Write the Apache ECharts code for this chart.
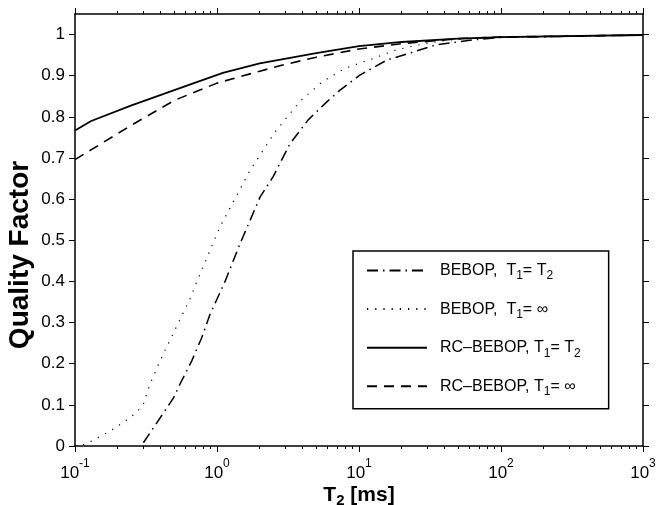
<!DOCTYPE html>
<html>
<head>
<meta charset="utf-8">
<script src="https://cdn.jsdelivr.net/npm/echarts@6/dist/echarts.min.js"></script>
<style>
html,body{margin:0;padding:0;background:#fff;}
#chart{width:658px;height:505px;}
</style>
</head>
<body>
<div id="chart"></div>
<script>
// ---- data ----
const seriesNames = ['BEBOP, T1=T2', 'BEBOP, T1=inf', 'RC-BEBOP, T1=T2', 'RC-BEBOP, T1=inf'];

const bebopT2_T = [0.303, 0.397, 0.494, 0.548, 0.664, 0.78, 0.893, 1.14, 1.45, 2.01, 2.48, 3.27, 4.37, 5.96, 7.35, 10.2, 15.7, 22.8, 35, 63, 100, 1000];
const bebopT2_Q = [0.008, 0.068, 0.117, 0.15, 0.207, 0.263, 0.32, 0.40, 0.491, 0.605, 0.654, 0.735, 0.792, 0.837, 0.865, 0.902, 0.938, 0.955, 0.975, 0.987, 0.993, 0.999];

const bebopInf_T = [0.1, 0.12, 0.176, 0.244, 0.30, 0.337, 0.397, 0.548, 0.646, 0.711, 1.05, 1.71, 2.56, 3.85, 5.5, 7.96, 12.6, 18.3, 30, 43.7, 63, 100, 1000];
const bebopInf_Q = [0.0, 0.005, 0.036, 0.068, 0.097, 0.15, 0.207, 0.307, 0.358, 0.394, 0.533, 0.67, 0.763, 0.838, 0.885, 0.918, 0.942, 0.963, 0.979, 0.987, 0.99, 0.994, 0.999];

const rcT2_T = [0.1, 0.13, 0.25, 0.5, 1.1, 2, 5, 10, 20, 50, 100, 1000];
const rcT2_Q = [0.767, 0.79, 0.828, 0.865, 0.907, 0.93, 0.955, 0.972, 0.982, 0.99, 0.994, 0.999];

const rcInf_T = [0.1, 0.13, 0.25, 0.5, 1, 2, 2.9, 5, 10, 20, 50, 100, 1000];
const rcInf_Q = [0.696, 0.72, 0.78, 0.84, 0.882, 0.911, 0.926, 0.945, 0.965, 0.978, 0.99, 0.994, 0.999];

const xTickExponents = [-1, 0, 1, 2, 3];
const xMinorMultipliers = [2, 3, 4, 5, 6, 7, 8, 9];
const yTicks = [0, 0.1, 0.2, 0.3, 0.4, 0.5, 0.6, 0.7, 0.8, 0.9, 1];

// legend labels (rich text)
const legendRich = {
  'BEBOP, T1=T2': '{p|BEBOP,  T}{s|1}{a|= T}{s|2}',
  'BEBOP, T1=inf': '{p|BEBOP,  T}{s|1}{a|= \u221e}',
  'RC-BEBOP, T1=T2': '{p|RC\u2013BEBOP, T}{s|1}{a|= T}{s|2}',
  'RC-BEBOP, T1=inf': '{p|RC\u2013BEBOP, T}{s|1}{a|= \u221e}'
};

// ---- build ----
function zip(t, q) { return t.map((v, i) => [v, q[i]]); }
const minorLog = [];
for (let e = xTickExponents[0]; e < xTickExponents[xTickExponents.length - 1]; e++) {
  xMinorMultipliers.forEach(m => minorLog.push(e + Math.log10(m)));
}
const FONT = '"Liberation Sans", Arial, Helvetica, sans-serif';
const black = '#000';

const chart = echarts.init(document.getElementById('chart'), null, {renderer: 'canvas'});

const grid = {left: 75, right: 15, top: 14, bottom: 59, containLabel: false, outerBoundsMode: 'none'};

const majorTickAxis = (pos, showLabel) => ({
  type: 'log', logBase: 10, min: 0.1, max: 1000, position: pos, gridIndex: 0,
  axisLine: {show: true, onZero: false, lineStyle: {color: black, width: 1.5}},
  axisTick: {show: true, inside: false, length: 6, lineStyle: {color: black, width: 1}},
  splitLine: {show: false},
  axisLabel: showLabel ? {
    show: true, margin: 12, fontFamily: FONT, color: black,
    formatter: v => '{b|10}{sup|' + Math.round(Math.log10(v)) + '}',
    rich: {
      b: {fontSize: 17, fontFamily: FONT, color: black, verticalAlign: 'bottom', lineHeight: 24},
      sup: {fontSize: 12, fontFamily: FONT, color: black, verticalAlign: 'top', lineHeight: 24, padding: [0, 0, 10, 0]}
    }
  } : {show: false},
  name: showLabel ? '{b|T}{s|2}{b| [ms]}' : '',
  nameLocation: 'middle', nameGap: 36, nameMoveOverlap: false,
  nameTextStyle: {
    fontFamily: FONT,
    rich: {
      b: {fontSize: 21, fontWeight: 'bold', fontFamily: FONT, color: black, verticalAlign: 'middle', lineHeight: 26},
      s: {fontSize: 15, fontWeight: 'bold', fontFamily: FONT, color: black, padding: [12, 0, 0, 0], lineHeight: 26}
    }
  }
});

const minorTickAxis = (pos) => ({
  type: 'value', min: -1, max: 3, position: pos, gridIndex: 0,
  axisLine: {show: false, onZero: false},
  axisTick: {show: true, inside: false, length: 3, customValues: minorLog, lineStyle: {color: black, width: 1}},
  axisLabel: {show: false},
  splitLine: {show: false}
});

const yAxisDef = (pos, showLabel) => ({
  type: 'value', min: 0, max: 1.05, position: pos, gridIndex: 0,
  axisLine: {show: true, onZero: false, lineStyle: {color: black, width: 1.5}},
  axisTick: {show: true, inside: false, length: 6, customValues: yTicks, lineStyle: {color: black, width: 1}},
  splitLine: {show: false},
  axisLabel: showLabel ? {show: true, customValues: yTicks, margin: 10, fontSize: 17, fontFamily: FONT, color: black,
    formatter: v => String(Math.round(v * 10) / 10)} : {show: false},
  name: showLabel ? 'Quality Factor' : '',
  nameLocation: 'middle', nameGap: 41, nameRotate: 90, nameMoveOverlap: false,
  nameTextStyle: {fontSize: 28, fontWeight: 'bold', fontFamily: FONT, color: black, padding: [0, 50, 0, 0]}
});

const mkSeries = (name, t, q, type, width) => ({
  name, type: 'line', xAxisIndex: 0, yAxisIndex: 0,
  data: zip(t, q), symbol: 'none', smooth: false, clip: true,
  lineStyle: {color: black, width, type},
  itemStyle: {color: black},
  emphasis: {disabled: true}, animation: false
});

chart.setOption({
  animation: false,
  backgroundColor: '#fff',
  grid,
  xAxis: [majorTickAxis('bottom', true), majorTickAxis('top', false), minorTickAxis('bottom'), minorTickAxis('top')],
  yAxis: [yAxisDef('left', true), yAxisDef('right', false)],
  legend: {
    show: true, orient: 'vertical', left: 353, top: 251,
    padding: [8, 28, 11, 13], itemGap: 15.6, itemWidth: 60, itemHeight: 14,
    borderColor: black, borderWidth: 1.5, backgroundColor: '#fff',
    itemStyle: {opacity: 0},
    data: seriesNames,
    formatter: name => legendRich[name],
    textStyle: {
      fontFamily: FONT, color: black,
      rich: {
        p: {fontSize: 16, fontFamily: FONT, color: black, lineHeight: 24, verticalAlign: 'middle', padding: [0, 0, 0, 8]},
        a: {fontSize: 16, fontFamily: FONT, color: black, lineHeight: 24, verticalAlign: 'middle'},
        s: {fontSize: 12, fontFamily: FONT, color: black, lineHeight: 24, padding: [11, 0, 0, 0]}
      }
    }
  },
  series: [
    mkSeries(seriesNames[0], bebopT2_T, bebopT2_Q, [11, 5, 1.5, 5], 1.5),
    mkSeries(seriesNames[1], bebopInf_T, bebopInf_Q, [1.2, 7], 1.2),
    mkSeries(seriesNames[2], rcT2_T, rcT2_Q, 'solid', 1.8),
    mkSeries(seriesNames[3], rcInf_T, rcInf_Q, [10, 7], 1.6)
  ]
});
</script>
</body>
</html>
